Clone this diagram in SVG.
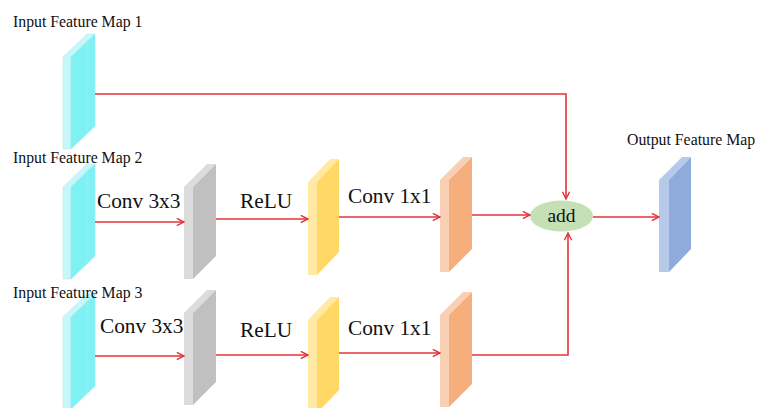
<svg xmlns="http://www.w3.org/2000/svg" width="758" height="408" viewBox="0 0 758 408">
  <defs>
    <marker id="arr" viewBox="0 0 10 10" refX="9" refY="5" markerWidth="9" markerHeight="9" markerUnits="userSpaceOnUse" orient="auto">
      <polyline points="1,1 9,5 1,9" fill="none" stroke="#e5323a" stroke-width="1.6"/>
    </marker>
    <style>
      .lbl { font-family: "Liberation Serif", "Times New Roman", serif; fill: #111; }
      .small { font-size: 15.8px; }
      .op { font-size: 21.3px; }
      .addt { font-size: 19.5px; }
      .wire { fill: none; stroke: #e5323a; stroke-width: 1.6; }
      .cyan .f { fill: #c8f7f9; stroke: #b6eef2; stroke-width: 0.6; }
      .cyan .s { fill: #7ef1f5; stroke: #9de9ee; stroke-width: 0.6; }
      .gray .f { fill: #dcdcdc; }
      .gray .s { fill: #c0c0c0; }
      .yel .f { fill: #ffe9a3; }
      .yel .s { fill: #ffd866; }
      .org .f { fill: #f9d0b4; }
      .org .s { fill: #f5ae7c; }
      .blu .f { fill: #b6c9e9; }
      .blu .s { fill: #8fabdc; }
    </style>
  </defs>
  <rect width="758" height="408" fill="#ffffff"/>

  <!-- feature-map slabs: narrow front face + wide receding side face -->
  <g id="in1" class="cyan">
    <polygon class="f" points="63,57 87,34 95,34 71,57 71,149 63,149"/>
    <polygon class="s" points="71,57 95,34 95,126 71,149"/>
    <line x1="87" y1="40" x2="87" y2="133" stroke="#a8eef2" stroke-width="0.6"/>
  </g>
  <g id="in2" class="cyan">
    <polygon class="f" points="63,187 87,164 95,164 71,187 71,279 63,279"/>
    <polygon class="s" points="71,187 95,164 95,256 71,279"/>
    <line x1="87" y1="170" x2="87" y2="263" stroke="#a8eef2" stroke-width="0.6"/>
  </g>
  <g id="in3" class="cyan">
    <polygon class="f" points="63,317 87,294 95,294 71,317 71,409 63,409"/>
    <polygon class="s" points="71,317 95,294 95,386 71,409"/>
    <line x1="87" y1="300" x2="87" y2="393" stroke="#a8eef2" stroke-width="0.6"/>
  </g>

  <g id="conv3a" class="gray">
    <polygon class="f" points="184,187 207,164 216,164 193,187 193,279 184,279"/>
    <polygon class="s" points="193,187 216,164 216,256 193,279"/>
  </g>
  <g id="conv3b" class="gray">
    <polygon class="f" points="184,313 207,290 216,290 193,313 193,405 184,405"/>
    <polygon class="s" points="193,313 216,290 216,382 193,405"/>
  </g>

  <g id="relua" class="yel">
    <polygon class="f" points="308,182 330,159 339,159 317,182 317,275 308,275"/>
    <polygon class="s" points="317,182 339,159 339,252 317,275"/>
  </g>
  <g id="relub" class="yel">
    <polygon class="f" points="308,320 330,297 339,297 317,320 317,413 308,413"/>
    <polygon class="s" points="317,320 339,297 339,390 317,413"/>
  </g>

  <g id="conv1a" class="org">
    <polygon class="f" points="440,180 463,157 472,157 449,180 449,272 440,272"/>
    <polygon class="s" points="449,180 472,157 472,249 449,272"/>
  </g>
  <g id="conv1b" class="org">
    <polygon class="f" points="440,315 463,292 472,292 449,315 449,407 440,407"/>
    <polygon class="s" points="449,315 472,292 472,384 449,407"/>
  </g>

  <g id="out" class="blu">
    <polygon class="f" points="659,180 682,157 691,157 669,180 669,272 659,272"/>
    <polygon class="s" points="669,180 691,157 691,249 669,272"/>
  </g>

  <g id="add">
    <ellipse cx="561.5" cy="216" rx="31.5" ry="15.5" fill="#c5e0b4"/>
    <text class="lbl addt" x="561.5" y="222" text-anchor="middle">add</text>
  </g>

  <!-- connectors -->
  <g id="wires">
    <polyline class="wire" points="95,94 566,94 566,199" marker-end="url(#arr)"/>
    <line class="wire" x1="95" y1="222" x2="184" y2="222" marker-end="url(#arr)"/>
    <line class="wire" x1="216" y1="219" x2="308" y2="219" marker-end="url(#arr)"/>
    <line class="wire" x1="339" y1="217" x2="440" y2="217" marker-end="url(#arr)"/>
    <line class="wire" x1="472" y1="215" x2="530" y2="215" marker-end="url(#arr)"/>
    <line class="wire" x1="95" y1="356" x2="184" y2="356" marker-end="url(#arr)"/>
    <line class="wire" x1="216" y1="355" x2="308" y2="355" marker-end="url(#arr)"/>
    <line class="wire" x1="339" y1="353" x2="440" y2="353" marker-end="url(#arr)"/>
    <polyline class="wire" points="472,355 568,355 568,233" marker-end="url(#arr)"/>
    <line class="wire" x1="593" y1="217" x2="659" y2="217" marker-end="url(#arr)"/>
  </g>

  <!-- labels -->
  <g id="labels">
    <text class="lbl small" x="13" y="27">Input Feature Map 1</text>
    <text class="lbl small" x="13" y="163">Input Feature Map 2</text>
    <text class="lbl small" x="13" y="298">Input Feature Map 3</text>
    <text class="lbl small" x="627" y="145">Output Feature Map</text>
    <text class="lbl op" x="97" y="208">Conv 3x3</text>
    <text class="lbl op" x="240" y="208">ReLU</text>
    <text class="lbl op" x="348" y="203">Conv 1x1</text>
    <text class="lbl op" x="100" y="333">Conv 3x3</text>
    <text class="lbl op" x="240" y="337">ReLU</text>
    <text class="lbl op" x="348" y="335">Conv 1x1</text>
  </g>
</svg>
